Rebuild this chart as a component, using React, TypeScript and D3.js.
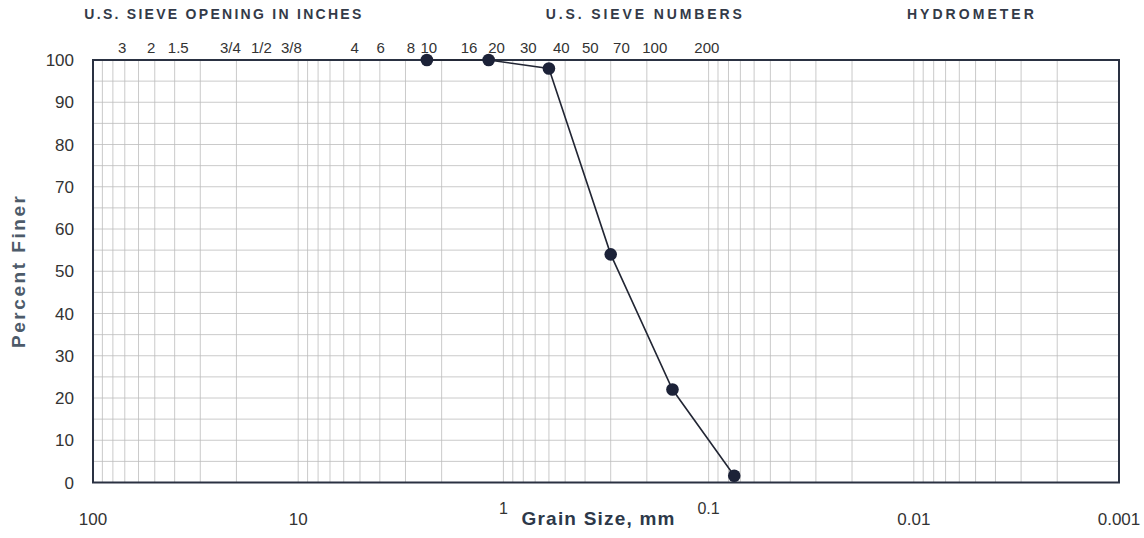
import React from 'react';
import { scaleLog, scaleLinear, line } from 'd3';

// sieve labels along the top, with the grain size (mm) where each label sits
const inchLabels = ['3', '2', '1.5', '3/4', '1/2', '3/8'];
const inchLabelAt = [72.1, 52.1, 38.4, 21.4, 15.1, 10.8];
const numberLabels = ['4', '6', '8', '10', '16', '20', '30', '40', '50', '70', '100', '200'];
const numberLabelAt = [5.3, 3.96, 2.82, 2.31, 1.47, 1.08, 0.756, 0.522, 0.377, 0.266, 0.183, 0.102];

const headers = ['U.S. SIEVE OPENING IN INCHES', 'U.S. SIEVE  NUMBERS', 'HYDROMETER'];
const headerAt = [23.3, 0.207, 0.0053];
const headerWidth = [277, 196, 127];

// measured gradation
const grainSize = [2.36, 1.18, 0.6, 0.3, 0.15, 0.075];
const percentFiner = [100, 100, 98, 54, 22, 1.6];

const xTicks = [100, 10, 1, 0.1, 0.01, 0.001];
const xTickLabels = ['100', '10', '1', '0.1', '0.01', '0.001'];
const yTicks = [0, 10, 20, 30, 40, 50, 60, 70, 80, 90, 100];

const W = 1144;
const H = 538;
const m = { left: 93, right: 1119, top: 60, bottom: 482.5 };
const font = '"Liberation Sans", Arial, sans-serif';

const App: React.FC = () => {
  const x = scaleLog().domain([100, 0.001]).range([m.left, m.right]);
  const y = scaleLinear().domain([0, 100]).range([m.bottom, m.top]);

  const vGrid = x.ticks();
  const hGrid = y.ticks(20);

  const pts = grainSize.map((d, i) => [x(d), y(percentFiner[i])] as [number, number]);
  const path = line()(pts) || '';

  return (
    <svg
      width={W}
      height={H}
      style={{ position: 'absolute', left: 0, top: 0, background: '#fff' }}
      fontFamily={font}
    >
      {/* grid */}
      <g stroke="#bcbcbc" strokeWidth={0.8}>
        {vGrid.map((d, i) => (
          <line key={'v' + i} x1={x(d)} x2={x(d)} y1={m.top} y2={m.bottom} />
        ))}
        {hGrid.map((d, i) => (
          <line key={'h' + i} x1={m.left} x2={m.right} y1={y(d)} y2={y(d)} />
        ))}
      </g>
      <rect
        x={m.left}
        y={m.top}
        width={m.right - m.left}
        height={m.bottom - m.top}
        fill="none"
        stroke="#2a3142"
        strokeWidth={2}
      />

      {/* headers */}
      {headers.map((h, i) => (
        <text
          key={h}
          x={x(headerAt[i])}
          y={18.5}
          textAnchor="middle"
          fontSize={14}
          fontWeight="bold"
          fill="#333a48"
          textLength={headerWidth[i]}
          lengthAdjust="spacing"
        >
          {h}
        </text>
      ))}

      {/* sieve labels */}
      {inchLabels.concat(numberLabels).map((s, i) => (
        <text
          key={'s' + i}
          x={x(inchLabelAt.concat(numberLabelAt)[i])}
          y={53}
          textAnchor="middle"
          fontSize={15}
          fill="#333"
        >
          {s}
        </text>
      ))}

      {/* y axis */}
      {yTicks.map((t) => (
        <text key={'y' + t} x={74} y={y(t) + 6} textAnchor="end" fontSize={17} fill="#333">
          {t}
        </text>
      ))}
      <text
        transform={`translate(25,272) rotate(-90)`}
        textAnchor="middle"
        fontSize={19}
        fontWeight="bold"
        fill="#4d5b6a"
        textLength={152}
        lengthAdjust="spacing"
      >
        Percent Finer
      </text>

      {/* x axis */}
      {xTicks.map((t, i) => {
        const small = t === 1 || t === 0.1;
        return (
          <text
            key={'x' + i}
            x={x(t)}
            y={small ? 514 : 525}
            textAnchor="middle"
            fontSize={small ? 16 : 17}
            fill="#333"
          >
            {xTickLabels[i]}
          </text>
        );
      })}
      <text
        x={598}
        y={525}
        textAnchor="middle"
        fontSize={19}
        fontWeight="bold"
        fill="#2d3849"
        textLength={153}
        lengthAdjust="spacing"
      >
        Grain Size, mm
      </text>

      {/* gradation curve */}
      <path d={path} fill="none" stroke="#222634" strokeWidth={1.6} />
      {pts.map((p, i) => (
        <circle key={'p' + i} cx={p[0]} cy={p[1]} r={6.3} fill="#1c2238" />
      ))}
    </svg>
  );
};

export default App;
